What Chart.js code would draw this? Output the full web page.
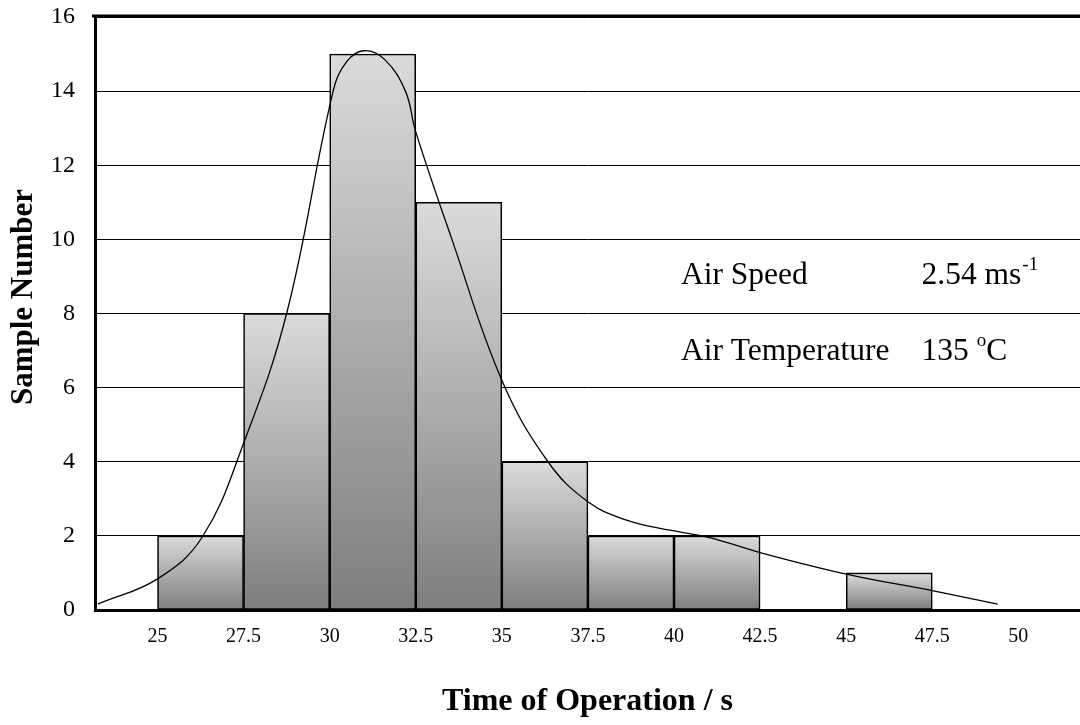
<!DOCTYPE html>
<html>
<head>
<meta charset="utf-8">
<script src="https://cdn.jsdelivr.net/npm/chart.js@4"></script>
<style>
  html, body { margin: 0; padding: 0; background: #fff; overflow: hidden; }
  #wrap { width: 1080px; height: 725px; }
</style>
</head>
<body>
<div id="wrap"><canvas id="c" width="1080" height="725"></canvas></div>
<script>
// ---- data ----
const binStarts = [25, 27.5, 30, 32.5, 35, 37.5, 40, 42.5, 45, 47.5];
const binWidth = 2.5;
const sampleCounts = [2, 8, 15, 11, 4, 2, 2, 0, 1, 0];
const fitX = [23.27, 25.0, 26.3, 27.5, 28.75, 30.1, 30.5, 31.0, 31.6, 32.2, 32.5, 33.55, 35.0, 36.34, 37.5, 38.6, 39.6, 41.0, 42.5, 45.0, 47.5, 49.4];
const fitY = [0.16, 0.84, 1.97, 4.5, 8.0, 14.0, 14.8, 15.09, 14.85, 14.0, 12.9, 10.0, 6.2, 4.0, 2.92, 2.43, 2.2, 1.96, 1.55, 0.97, 0.52, 0.16];
const xTickValues = [25, 27.5, 30, 32.5, 35, 37.5, 40, 42.5, 45, 47.5, 50];
const yTickValues = [0, 2, 4, 6, 8, 10, 12, 14, 16];
const xTitle = 'Time of Operation / s';
const yTitle = 'Sample Number';
const noteSpeedLabel = 'Air Speed';
const noteSpeedValue = '2.54 ms';
const noteSpeedSup = '-1';
const noteTempLabel = 'Air Temperature';
const noteTempValue = '135 ';
const noteTempSup = 'o';
const noteTempUnit = 'C';

const SERIF = '"Liberation Serif", "Times New Roman", serif';

const barData = binStarts.map((s, i) => ({ x: s + binWidth / 2, y: sampleCounts[i] }));
const lineData = fitX.map((x, i) => ({ x: x, y: fitY[i] }));

const framePlugin = {
  id: 'frame',
  afterDraw(chart) {
    const { ctx, chartArea, scales } = chart;
    ctx.save();
    // top border
    ctx.strokeStyle = '#000';
    ctx.lineWidth = 3;
    ctx.beginPath();
    ctx.moveTo(chartArea.left - 3, chartArea.top - 1);
    ctx.lineTo(chartArea.right, chartArea.top - 1);
    ctx.stroke();

    // y-axis title
    ctx.fillStyle = '#000';
    ctx.font = 'bold 31px ' + SERIF;
    ctx.textAlign = 'center';
    ctx.textBaseline = 'middle';
    ctx.translate(24, 297);
    ctx.rotate(-Math.PI / 2);
    ctx.fillText(yTitle, 0, 0);
    ctx.restore();

    // annotations
    ctx.save();
    ctx.fillStyle = '#000';
    ctx.textBaseline = 'alphabetic';
    ctx.textAlign = 'left';
    const xs = scales.x, ys = scales.y;
    const labX = xs.getPixelForValue(40.2);
    const valX = xs.getPixelForValue(47.19);
    const y1 = ys.getPixelForValue(8.8);
    const y2 = ys.getPixelForValue(6.75);
    const big = '31.5px ' + SERIF;
    const small = '19px ' + SERIF;
    ctx.font = big;
    ctx.fillText(noteSpeedLabel, labX, y1);
    ctx.fillText(noteSpeedValue, valX, y1);
    let w = ctx.measureText(noteSpeedValue).width;
    ctx.font = small;
    ctx.fillText(noteSpeedSup, valX + w + 1, y1 - 14);

    ctx.font = big;
    ctx.fillText(noteTempLabel, labX, y2);
    ctx.fillText(noteTempValue, valX, y2);
    w = ctx.measureText(noteTempValue).width;
    ctx.font = small;
    ctx.fillText(noteTempSup, valX + w, y2 - 14);
    const w2 = ctx.measureText(noteTempSup).width;
    ctx.font = big;
    ctx.fillText(noteTempUnit, valX + w + w2, y2);
    ctx.restore();
  }
};

function barFill(c) {
  const chart = c.chart;
  const { ctx, chartArea, scales } = chart;
  if (!chartArea || c.type !== 'data' || !c.raw) return '#b0b0b0';
  const top = scales.y.getPixelForValue(c.raw.y);
  const bot = scales.y.getPixelForValue(0);
  if (bot - top < 1) return '#d9d9d9';
  const g = ctx.createLinearGradient(0, top, 0, bot);
  g.addColorStop(0, '#dbdbdb');
  g.addColorStop(1, '#7e7e7e');
  return g;
}

new Chart(document.getElementById('c'), {
  data: {
    datasets: [
      {
        type: 'line',
        data: lineData,
        borderColor: '#000',
        borderWidth: 1.3,
        pointRadius: 0,
        fill: false,
        tension: 0.4,
        order: 0
      },
      {
        type: 'bar',
        data: barData,
        backgroundColor: barFill,
        borderColor: '#000',
        borderWidth: 1.6,
        borderSkipped: false,
        categoryPercentage: 1.0,
        barPercentage: 1.0,
        order: 1
      }
    ]
  },
  options: {
    responsive: false,
    animation: false,
    events: [],
    layout: { padding: { top: 17, right: 0, bottom: 0, left: 0 } },
    plugins: { legend: { display: false }, tooltip: { enabled: false } },
    scales: {
      x: {
        type: 'linear',
        offset: false,
        min: 23.185,
        max: 51.79,
        grid: { display: false, drawTicks: false, offset: false },
        border: { display: true, color: '#000', width: 3 },
        afterBuildTicks: (s) => { s.ticks = xTickValues.map(v => ({ value: v })); },
        afterFit: (s) => { s.height = 115; s.paddingLeft = 0; s.paddingRight = 0; },
        ticks: {
          color: '#000',
          font: { family: SERIF, size: 20 },
          padding: 15,
          maxRotation: 0,
          autoSkip: false,
          callback: (v) => String(v)
        },
        title: {
          display: true,
          text: xTitle,
          color: '#000',
          font: { family: SERIF, size: 32, weight: 'bold' },
          padding: { top: 0, bottom: 4 }
        }
      },
      y: {
        type: 'linear',
        min: 0,
        max: 16,
        grid: { color: '#000', lineWidth: 1, drawTicks: false },
        border: { display: true, color: '#000', width: 3 },
        afterBuildTicks: (s) => { s.ticks = yTickValues.map(v => ({ value: v })); },
        afterFit: (s) => { s.width = 95; s.paddingTop = 0; s.paddingBottom = 0; },
        ticks: {
          color: '#000',
          font: { family: SERIF, size: 24 },
          padding: 20,
          callback: (v) => String(v)
        }
      }
    }
  },
  plugins: [framePlugin]
});
</script>
</body>
</html>
